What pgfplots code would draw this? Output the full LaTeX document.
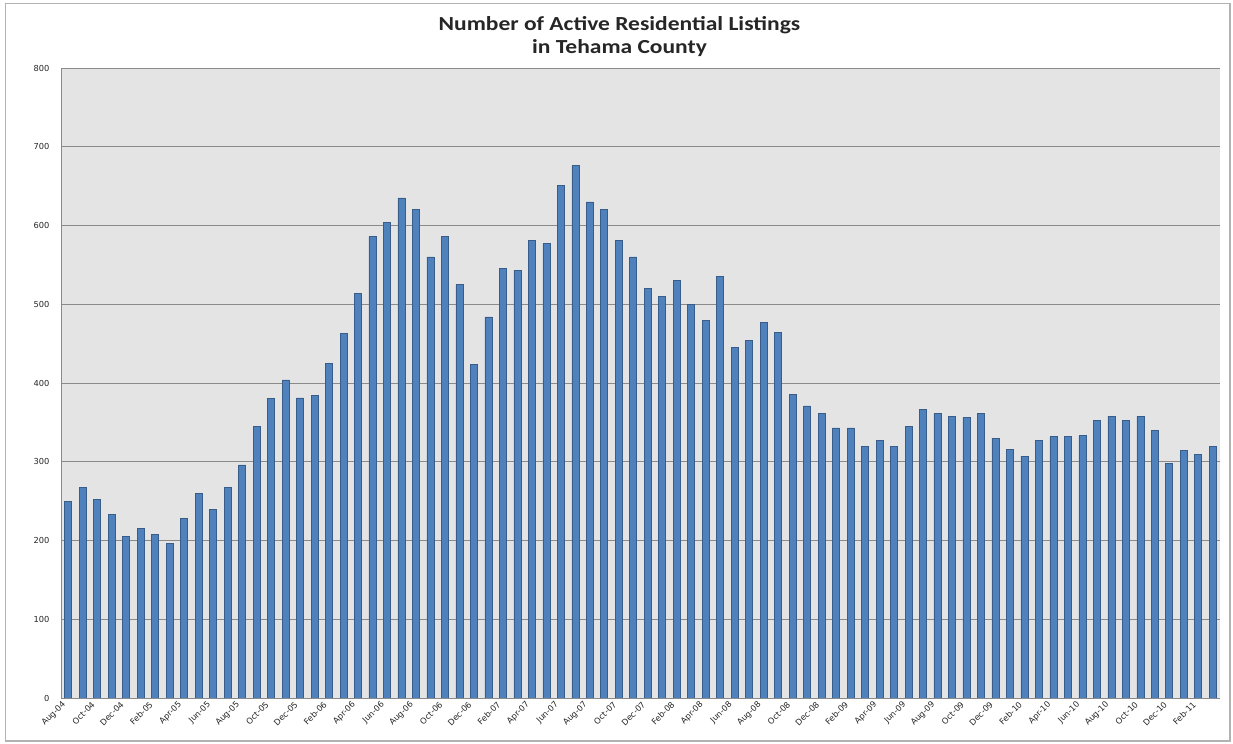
\documentclass[border=0pt]{standalone}
\usepackage{graphicx}
\usepackage{pgfplots}
\pgfplotsset{compat=1.18}
\usepackage{fontspec}
\setmainfont{Carlito}
\newfontfamily\tickfont{DejaVu Sans}
\definecolor{barfill}{HTML}{4F81BD}
\definecolor{baredge}{HTML}{385D8A}
\definecolor{plotbg}{HTML}{E4E4E4}
\definecolor{gridc}{HTML}{8A8A8A}
\begin{document}
\begin{tikzpicture}
\path (0bp,0bp) rectangle (1233bp,744bp);
\draw[color=black!30, line width=1.2bp] (5.5bp,3bp) rectangle (1230bp,740.5bp);
\node[font=\fontsize{20}{23}\selectfont\bfseries, align=center, text=black!85, inner sep=0pt] at (619.5bp,707bp) {\scalebox{1.18}[1]{Number of Active Residential Listings}\\\scalebox{1.18}[1]{in Tehama County}};
\begin{axis}[at={(61bp,46bp)}, anchor=south west, scale only axis,
  width=1159bp, height=630bp,
  ymin=0, ymax=800, ytick={0,100,...,800},
  xmin=-0.5, xmax=79.5,
  xtick={0,2,...,78},
  xticklabels={Aug-04,Oct-04,Dec-04,Feb-05,Apr-05,Jun-05,Aug-05,Oct-05,Dec-05,Feb-06,Apr-06,Jun-06,Aug-06,Oct-06,Dec-06,Feb-07,Apr-07,Jun-07,Aug-07,Oct-07,Dec-07,Feb-08,Apr-08,Jun-08,Aug-08,Oct-08,Dec-08,Feb-09,Apr-09,Jun-09,Aug-09,Oct-09,Dec-09,Feb-10,Apr-10,Jun-10,Aug-10,Oct-10,Dec-10,Feb-11},
  /pgf/number format/assume math mode=true,
  axis background/.style={fill=plotbg},
  axis x line*=bottom, axis y line*=left,
  axis line style={-, color=gridc, line width=0.9bp},
  ymajorgrids, grid style={color=gridc, line width=0.9bp},
  major tick length=0pt,
  yticklabel style={font=\tickfont\fontsize{8.3}{9}\selectfont, text=black!85, xshift=-8bp},
  xticklabel style={font=\tickfont\fontsize{8.3}{9}\selectfont, text=black!85, rotate=45, anchor=east, yshift=-1bp, xshift=-3bp},
]
\addplot[ybar, bar width=7bp, fill=barfill, draw=baredge, line width=0.6bp] coordinates {
(0,250)(1,267)(2,252)(3,233)(4,205)(5,215)(6,208)(7,196)(8,228)(9,260)
(10,239)(11,267)(12,296)(13,345)(14,380)(15,404)(16,381)(17,384)(18,425)(19,463)
(20,514)(21,586)(22,604)(23,635)(24,620)(25,560)(26,586)(27,525)(28,424)(29,484)
(30,546)(31,543)(32,581)(33,577)(34,651)(35,676)(36,630)(37,620)(38,581)(39,560)
(40,520)(41,510)(42,530)(43,500)(44,479)(45,535)(46,445)(47,454)(48,477)(49,464)
(50,386)(51,371)(52,361)(53,343)(54,343)(55,319)(56,327)(57,319)(58,345)(59,366)
(60,361)(61,358)(62,356)(63,361)(64,330)(65,316)(66,307)(67,327)(68,332)(69,332)
(70,333)(71,353)(72,358)(73,353)(74,358)(75,340)(76,298)(77,314)(78,309)(79,319)
};
\end{axis}
\end{tikzpicture}
\end{document}
